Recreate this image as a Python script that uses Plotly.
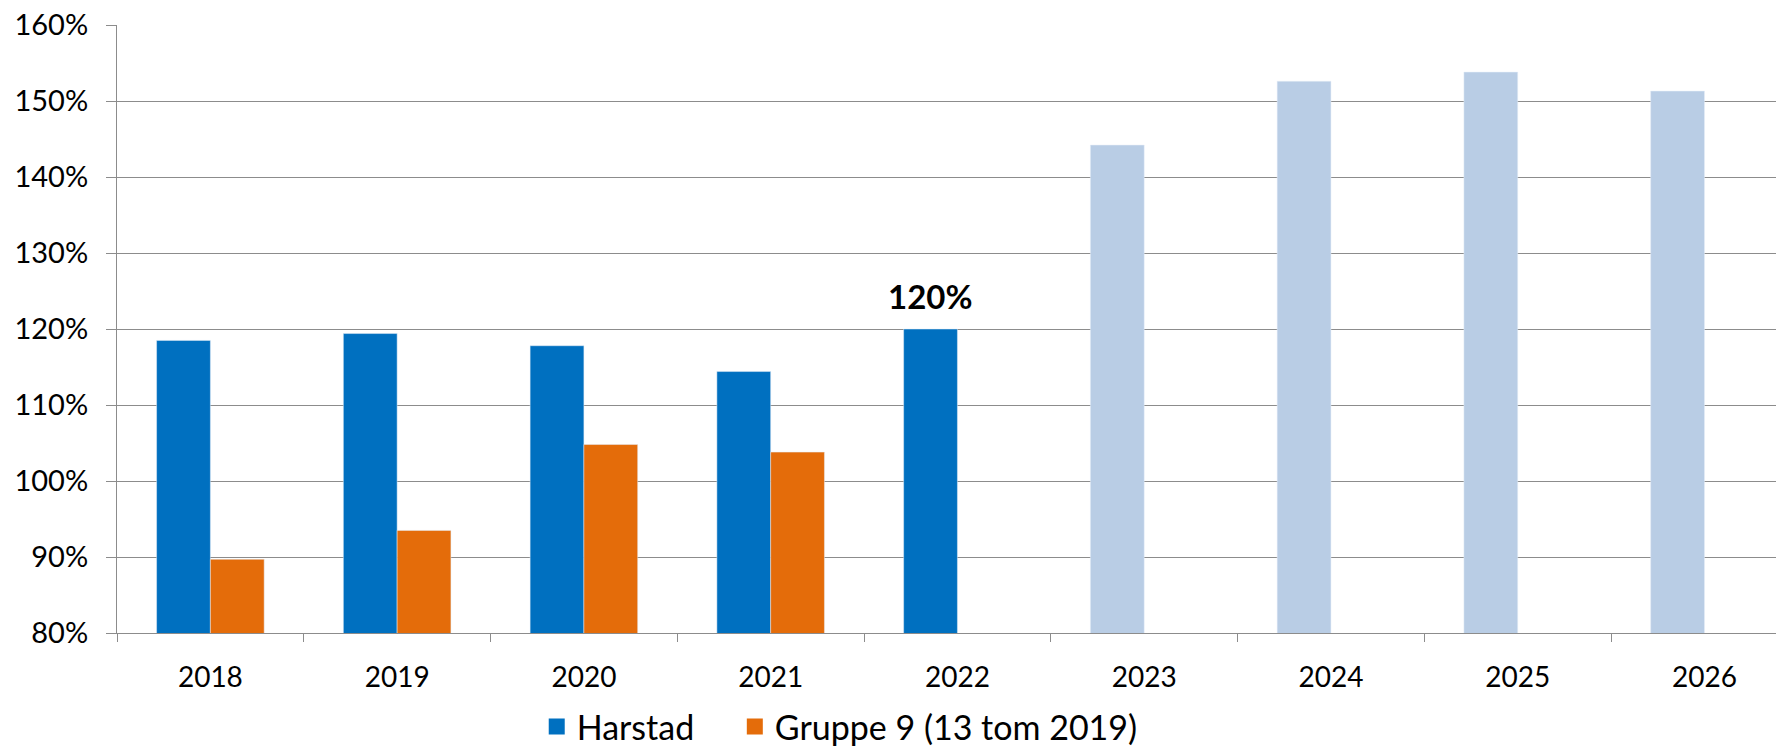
import plotly.graph_objects as go

years = ["2018", "2019", "2020", "2021", "2022", "2023", "2024", "2025", "2026"]
harstad_years = ["2018", "2019", "2020", "2021", "2022"]
harstad = [118.5, 119.4, 117.8, 114.4, 120.0]
forecast_years = ["2023", "2024", "2025", "2026"]
forecast = [144.2, 152.6, 153.8, 151.3]
gruppe_years = ["2018", "2019", "2020", "2021"]
gruppe9 = [89.7, 93.5, 104.8, 103.8]
y_ticks = [80, 90, 100, 110, 120, 130, 140, 150, 160]

BLUE = "#0070C0"
ORANGE = "#E46C0A"
LIGHT = "#B9CDE5"
GRID = "#8C8C8C"
FONT = "Lato"

fig = go.Figure()
fig.add_trace(go.Bar(x=harstad_years, y=harstad, name="Harstad", marker_color=BLUE,
                     offsetgroup="h", showlegend=False))
fig.add_trace(go.Bar(x=gruppe_years, y=gruppe9, name="Gruppe 9 (13 tom 2019)",
                     marker_color=ORANGE, offsetgroup="g", showlegend=False))
fig.add_trace(go.Bar(x=forecast_years, y=forecast, name="Prognose", marker_color=LIGHT,
                     offsetgroup="h", showlegend=False))

# legend entries with larger square swatches, one legend box per entry
for nm, col, lg in [("Harstad", BLUE, "legend"), ("Gruppe 9 (13 tom 2019)", ORANGE, "legend2")]:
    fig.add_trace(go.Scatter(x=[None], y=[None], mode="markers", name=nm, legend=lg,
                             marker=dict(symbol="square", size=18, color=col)))

# value label above the last Harstad bar (positioned on the category index)
last_idx = years.index(harstad_years[-1])
fig.add_annotation(x=last_idx, y=harstad[-1], text=f"<b>{harstad[-1]:.0f}%</b>",
                   showarrow=False, yanchor="bottom", yshift=11, xshift=-27,
                   font=dict(family=FONT, size=33, color="black"))

legend_style = dict(orientation="h", xanchor="left", yref="container", y=0.036,
                    yanchor="middle", font=dict(family=FONT, size=34, color="black"),
                    itemsizing="trace", bgcolor="rgba(0,0,0,0)")

fig.update_layout(
    width=1776, height=754,
    margin=dict(l=117, r=0, t=25, b=121),
    paper_bgcolor="white", plot_bgcolor="white",
    barmode="group", bargap=0.424, bargroupgap=0,
    font=dict(family=FONT, size=28, color="black"),
    legend=dict(x=0.253, **legend_style),
    legend2=dict(x=0.3724, **legend_style),
)
fig.update_xaxes(type="category", categoryorder="array", categoryarray=years,
                 range=[-0.5, 8.383], showgrid=False,
                 showline=True, linecolor=GRID, linewidth=1,
                 ticks="outside", tickson="boundaries", ticklen=8, tickcolor=GRID,
                 ticklabelstandoff=19, tickfont=dict(family=FONT, size=28))
fig.update_yaxes(range=[80, 160], tickvals=y_ticks, ticktext=[f"{v}%" for v in y_ticks],
                 showgrid=True, gridcolor=GRID, gridwidth=1,
                 showline=True, linecolor=GRID, linewidth=1,
                 ticks="outside", ticklen=10, tickcolor=GRID,
                 ticklabelstandoff=12, tickfont=dict(family=FONT, size=29), zeroline=False)

fig.write_html("out.html")
